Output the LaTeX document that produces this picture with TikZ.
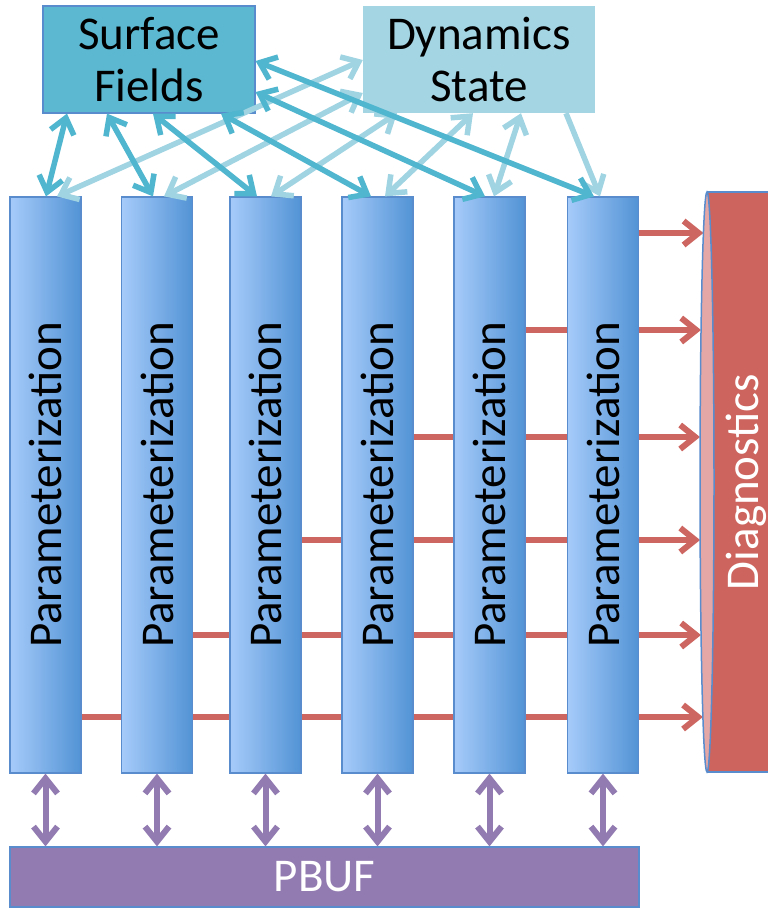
\documentclass[tikz,border=0pt]{standalone}
\usepackage{fontspec}
\setmainfont{Carlito}
\usetikzlibrary{arrows.meta,calc}
\pgfdeclarelayer{bg}
\pgfsetlayers{bg,main}
\definecolor{sfFill}{RGB}{91,184,208}
\definecolor{boxDraw}{RGB}{88,140,205}
\definecolor{dsFill}{RGB}{163,213,227}
\definecolor{tealA}{RGB}{80,181,206}
\definecolor{lightA}{RGB}{160,212,226}
\definecolor{colL}{RGB}{166,203,250}
\definecolor{colR}{RGB}{82,147,213}
\definecolor{redA}{RGB}{205,102,96}
\definecolor{diagBody}{RGB}{205,101,94}
\definecolor{diagCap}{RGB}{229,167,166}
\definecolor{pbufFill}{RGB}{146,123,177}
\begin{document}
\begin{tikzpicture}[x=1pt,y=-1pt,
  txt/.style={font=\fontsize{47}{52}\selectfont, align=center},
  barb/.style={>={Straight Barb[length=15pt,width=24pt]}},
  colbox/.style={minimum width=71pt, minimum height=576pt, inner sep=0pt,
    draw=boxDraw, line width=1.2pt, left color=colL, right color=colR, txt},
  tarr/.style={barb, draw=tealA, line width=5.5pt, <->},
  larr/.style={barb, draw=lightA, line width=5.5pt, <->},
  larrone/.style={barb, draw=lightA, line width=5.5pt, ->},
  rarr/.style={barb, draw=redA, line width=6pt, ->},
  parr/.style={barb, draw=pbufFill, line width=6pt, <->}
]
\useasboundingbox (0,0) rectangle (768,908);

% top boxes
\node[txt, draw=boxDraw, fill=sfFill, line width=1.2pt, minimum width=212pt, minimum height=107pt, inner sep=0pt] (sf) at (149,59.5) {Surface\\Fields};
\node[txt, fill=dsFill, minimum width=232pt, minimum height=107pt, inner sep=0pt] (ds) at (479,59.5) {Dynamics\\State};

% columns
\node[colbox] (p1) at (45.5,485) {\rotatebox{90}{Parameterization}};
\node[colbox] (p2) at (157,485) {\rotatebox{90}{Parameterization}};
\node[colbox] (p3) at (265.5,485) {\rotatebox{90}{Parameterization}};
\node[colbox] (p4) at (377.5,485) {\rotatebox{90}{Parameterization}};
\node[colbox] (p5) at (489.5,485) {\rotatebox{90}{Parameterization}};
\node[colbox] (p6) at (603,485) {\rotatebox{90}{Parameterization}};

% PBUF
\node[txt, text=white, draw=boxDraw, fill=pbufFill, line width=1.2pt, minimum width=629pt, minimum height=60pt, inner sep=0pt] (pbuf) at (324.5,877) {PBUF};

% Diagnostics cylinder
\fill[diagBody] (707,192) rectangle (775,772);
\draw[boxDraw, line width=1.5pt] (707,192) -- (775,192) (707,772) -- (775,772);
\filldraw[fill=diagCap, draw=boxDraw, line width=1.5pt] (707,482) ellipse [x radius=7, y radius=290];
\node[txt, text=white] (diag) at (746,482) {\rotatebox{90}{Diagnostics}};

\coordinate (d1) at (703.4,233);
\coordinate (d2) at (701,330);
\coordinate (d3) at (700,437);
\coordinate (d4) at (700.1,540);
\coordinate (d5) at (701,635);
\coordinate (d6) at (702.9,717);

% red arrows behind the columns
\begin{pgfonlayer}{bg}
\draw[rarr] (p6.center |- d1) -- (d1);
\draw[rarr] (p5.center |- d2) -- (d2);
\draw[rarr] (p4.center |- d3) -- (d3);
\draw[rarr] (p3.center |- d4) -- (d4);
\draw[rarr] (p2.center |- d5) -- (d5);
\draw[rarr] (p1.center |- d6) -- (d6);
\end{pgfonlayer}

% light arrows (Dynamics State)
\draw[larr] (ds.west |- 0,60) -- (p1.north -| 57,0);
\draw[larr] (ds.west |- 0,93) -- (p2.north -| 164,0);
\draw[larr] (ds.south -| 397,0) -- (p3.north -| 271,0);
\draw[larr] (ds.south -| 473,0) -- (p4.north -| 385,0);
\draw[larr] (ds.south -| 521,0) -- (p5.north -| 494,0);
\draw[larrone] (ds.south -| 566,0) -- (p6.north -| 600,0);

% teal arrows (Surface Fields)
\draw[tarr] (sf.south -| 67,0) -- (p1.north -| 46,0);
\draw[tarr] (sf.south -| 107,0) -- (p2.north -| 153,0);
\draw[tarr] (sf.south -| 153,0) -- (p3.north -| 257,0);
\draw[tarr] (sf.south -| 221,0) -- (p4.north -| 371,0);
\draw[tarr] (sf.east |- 0,92) -- (p5.north -| 485,0);
\draw[tarr] (sf.east |- 0,61) -- (p6.north -| 594,0);

% purple arrows to PBUF
\draw[parr] (p1.south) -- (pbuf.north -| p1.south);
\draw[parr] (p2.south) -- (pbuf.north -| p2.south);
\draw[parr] (p3.south) -- (pbuf.north -| p3.south);
\draw[parr] (p4.south) -- (pbuf.north -| p4.south);
\draw[parr] (p5.south) -- (pbuf.north -| p5.south);
\draw[parr] (p6.south) -- (pbuf.north -| p6.south);
\end{tikzpicture}
\end{document}
